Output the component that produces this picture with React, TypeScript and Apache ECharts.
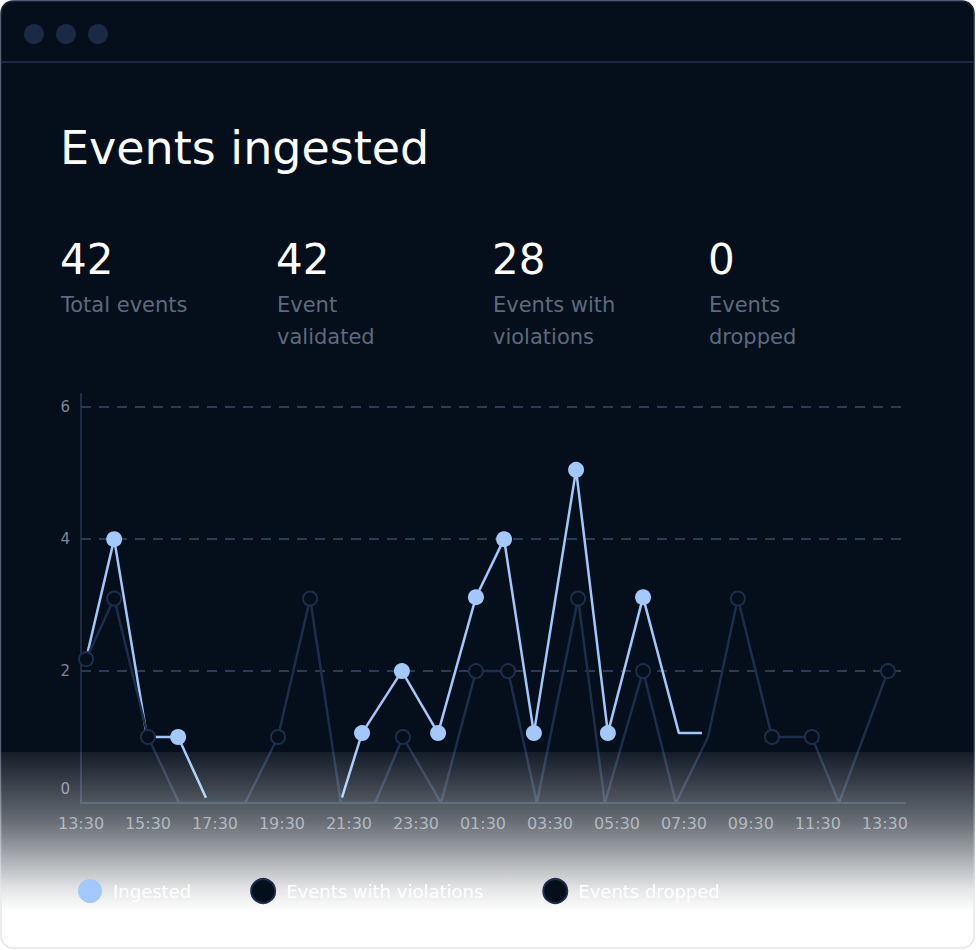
import React, { useEffect, useRef } from 'react';
import * as echarts from 'echarts';

// ---------- data ----------
const xTickLabels = ['13:30', '15:30', '17:30', '19:30', '21:30', '23:30', '01:30', '03:30', '05:30', '07:30', '09:30', '11:30', '13:30'];
const yTickValues = [2, 4, 6];

// hours since 13:30
const ingestedHours = [0.15, 0.99, 1.97, 2.9, 3.73, 5.5, 7.79, 8.39, 9.58, 10.66, 11.79, 12.63, 13.52, 14.78, 15.73, 16.78, 17.85, 18.54];
const ingestedValues: (number | null)[] = [2.18, 4, 1, 1, 0.08, null, 0.08, 1.06, 2, 1.06, 3.12, 4, 1.06, 5.05, 1.06, 3.12, 1.06, 1.06];
const ingestedMarked = [false, true, false, true, false, false, false, true, true, true, true, true, true, true, true, true, false, false];

const violationsHours = [0.15, 0.99, 2.0, 2.93, 4.9, 5.88, 6.84, 7.76, 8.78, 9.61, 10.75, 11.79, 12.75, 13.61, 14.84, 15.64, 16.78, 17.76, 18.72, 19.61, 20.63, 21.82, 22.63, 24.09];
const violationsValues = [2.18, 3.1, 1, 0, 0, 1, 3.1, 0, 0, 1, 0, 2, 2, 0, 3.1, 0, 2, 0, 1, 3.1, 1, 1, 0, 2];
const violationsMarked = [true, true, true, false, false, true, true, false, false, true, false, true, true, false, true, false, true, false, false, true, true, true, false, true];

const droppedHours = [0.15, 24.09];
const droppedValues = [0, 0];

const statValues = ['42', '42', '28', '0'];
const statLabels = ['Total events', 'Event\nvalidated', 'Events with\nviolations', 'Events\ndropped'];
const seriesNames = ['Ingested', 'Events with violations', 'Events dropped'];

const FONT = '"DejaVu Sans", Inter, sans-serif';
const BG = '#050e1b';
const BORDER = '#1b2a42';
const LIGHT = '#a3c8fb';
const DARK_LINE = '#1c2e4a';

export default function App() {
  const ref = useRef<HTMLDivElement>(null);

  useEffect(() => {
    document.body.style.margin = '0';
    const chart = echarts.init(ref.current!, null, { renderer: 'svg' });

    const ingestedData = ingestedHours.map((h, i) => {
      const v = ingestedValues[i];
      return {
        value: [h, v === null ? '-' : v],
        symbol: ingestedMarked[i] ? 'circle' : 'none',
      };
    });
    const violationsData = violationsHours.map((h, i) => ({
      value: [h, violationsValues[i]],
      symbol: violationsMarked[i] ? 'circle' : 'none',
    }));
    const droppedData = droppedHours.map((h, i) => ({ value: [h, droppedValues[i]], symbol: 'none' }));

    const graphics: any[] = [
      {
        type: 'rect',
        z: -10,
        shape: { x: 1, y: 1, width: 973, height: 947, r: 12 },
        style: { fill: BG },
        silent: true,
      },
      {
        type: 'line',
        z: -9,
        shape: { x1: 1, y1: 62, x2: 974, y2: 62 },
        style: { stroke: BORDER, lineWidth: 2 },
        silent: true,
      },
      ...[34, 66, 98].map((cx) => ({
        type: 'circle',
        z: -9,
        shape: { cx, cy: 34, r: 10 },
        style: { fill: '#1a2a44' },
        silent: true,
      })),
      {
        type: 'text',
        z: 10,
        x: 60,
        y: 148,
        style: {
          text: 'Events ingested',
          fill: '#ffffff',
          fontSize: 46,
          fontFamily: FONT,
          fontWeight: 400,
          align: 'left',
          verticalAlign: 'middle',
        },
      },
      ...statValues.map((t, i) => ({
        type: 'text',
        z: 10,
        x: 60 + i * 216,
        y: 259,
        style: {
          text: t,
          fill: '#ffffff',
          fontSize: 42,
          fontFamily: FONT,
          fontWeight: 400,
          align: 'left',
          verticalAlign: 'middle',
        },
      })),
      ...statLabels.map((t, i) => ({
        type: 'text',
        z: 10,
        x: 61 + i * 216,
        y: 288.5,
        style: {
          text: t,
          fill: '#5d6a7d',
          fontSize: 21,
          lineHeight: 32,
          fontFamily: FONT,
          fontWeight: 400,
          align: 'left',
          verticalAlign: 'top',
        },
      })),
      {
        type: 'rect',
        z: 100,
        shape: { x: 0, y: 752, width: 976, height: 198 },
        style: {
          fill: new echarts.graphic.LinearGradient(0, 0, 0, 1, [
            { offset: 0, color: 'rgba(255,255,255,0.06)' },
            { offset: 0.14, color: 'rgba(255,255,255,0.19)' },
            { offset: 0.354, color: 'rgba(255,255,255,0.4)' },
            { offset: 0.495, color: 'rgba(255,255,255,0.6)' },
            { offset: 0.596, color: 'rgba(255,255,255,0.75)' },
            { offset: 0.697, color: 'rgba(255,255,255,0.9)' },
            { offset: 0.773, color: 'rgba(255,255,255,0.97)' },
            { offset: 0.8, color: 'rgba(255,255,255,1)' },
            { offset: 1, color: 'rgba(255,255,255,1)' },
          ]),
        },
        silent: true,
      },
      {
        type: 'rect',
        z: 101,
        shape: { x: 1, y: 1, width: 973, height: 947, r: 12 },
        style: {
          fill: 'none',
          lineWidth: 1.5,
          stroke: new echarts.graphic.LinearGradient(0, 0, 0, 1, [
            { offset: 0, color: BORDER },
            { offset: 0.79, color: BORDER },
            { offset: 0.94, color: '#e4e6e9' },
            { offset: 1, color: '#e4e6e9' },
          ]),
        },
        silent: true,
      },
    ];

    chart.setOption({
      animation: false,
      backgroundColor: 'transparent',
      textStyle: { fontFamily: FONT },
      graphic: graphics,
      grid: { left: 81, right: 71, top: 394, bottom: 147 },
      legend: {
        z: 200,
        left: 73,
        top: 873,
        icon: 'circle',
        itemWidth: 24,
        itemHeight: 24,
        itemGap: 59,
        data: seriesNames,
        textStyle: { color: '#ffffff', fontSize: 18, fontFamily: FONT, padding: [0, 0, 0, 6] },
      },
      xAxis: {
        type: 'value',
        min: 0,
        max: 24.6,
        interval: 2,
        axisLine: { show: true, lineStyle: { color: '#1e2d45', width: 2 } },
        axisTick: { show: false },
        splitLine: { show: false },
        axisLabel: {
          color: '#7d8796',
          fontSize: 16,
          fontFamily: FONT,
          margin: 12,
          showMaxLabel: false,
          formatter: (v: number) => {
            const idx = v / 2;
            return Number.isInteger(idx) && idx < xTickLabels.length ? xTickLabels[idx] : '';
          },
        },
      },
      yAxis: {
        type: 'value',
        min: 0,
        max: 6.2,
        interval: 2,
        axisLine: { show: true, lineStyle: { color: '#1e2d45', width: 2 } },
        axisTick: { show: false },
        splitLine: { show: false },
        axisLabel: {
          color: '#7d8796',
          fontSize: 15,
          fontFamily: FONT,
          margin: 11,
          formatter: (v: number) => {
            if (v === 0) return '{z|0}';
            return yTickValues.includes(v) ? String(v) : '';
          },
          rich: {
            z: { color: '#7d8796', fontSize: 15, fontFamily: FONT, padding: [0, 0, 28, 0] },
          },
        },
      },
      series: [
        {
          name: 'Events dropped',
          type: 'line',
          z: 2,
          data: droppedData,
          showSymbol: false,
          lineStyle: { color: DARK_LINE, width: 2 },
          itemStyle: { color: BG, borderColor: DARK_LINE, borderWidth: 2 },
          markLine: {
            z: 1,
            silent: true,
            symbol: ['none', 'none'],
            label: { show: false },
            lineStyle: { color: '#2a3b57', width: 2, type: [10, 8] },
            data: yTickValues.map((v) => ({ yAxis: v })),
          },
        },
        {
          name: 'Ingested',
          type: 'line',
          z: 3,
          data: ingestedData,
          showAllSymbol: true,
          symbolSize: 16,
          connectNulls: false,
          lineStyle: { color: LIGHT, width: 2.5 },
          itemStyle: { color: LIGHT },
        },
        {
          name: 'Events with violations',
          type: 'line',
          z: 4,
          data: violationsData,
          showAllSymbol: true,
          symbolSize: 14,
          lineStyle: { color: DARK_LINE, width: 2.5 },
          itemStyle: { color: BG, borderColor: DARK_LINE, borderWidth: 2 },
        },
      ],
    });

    return () => chart.dispose();
  }, []);

  return <div ref={ref} style={{ width: 976, height: 950 }} />;
}
